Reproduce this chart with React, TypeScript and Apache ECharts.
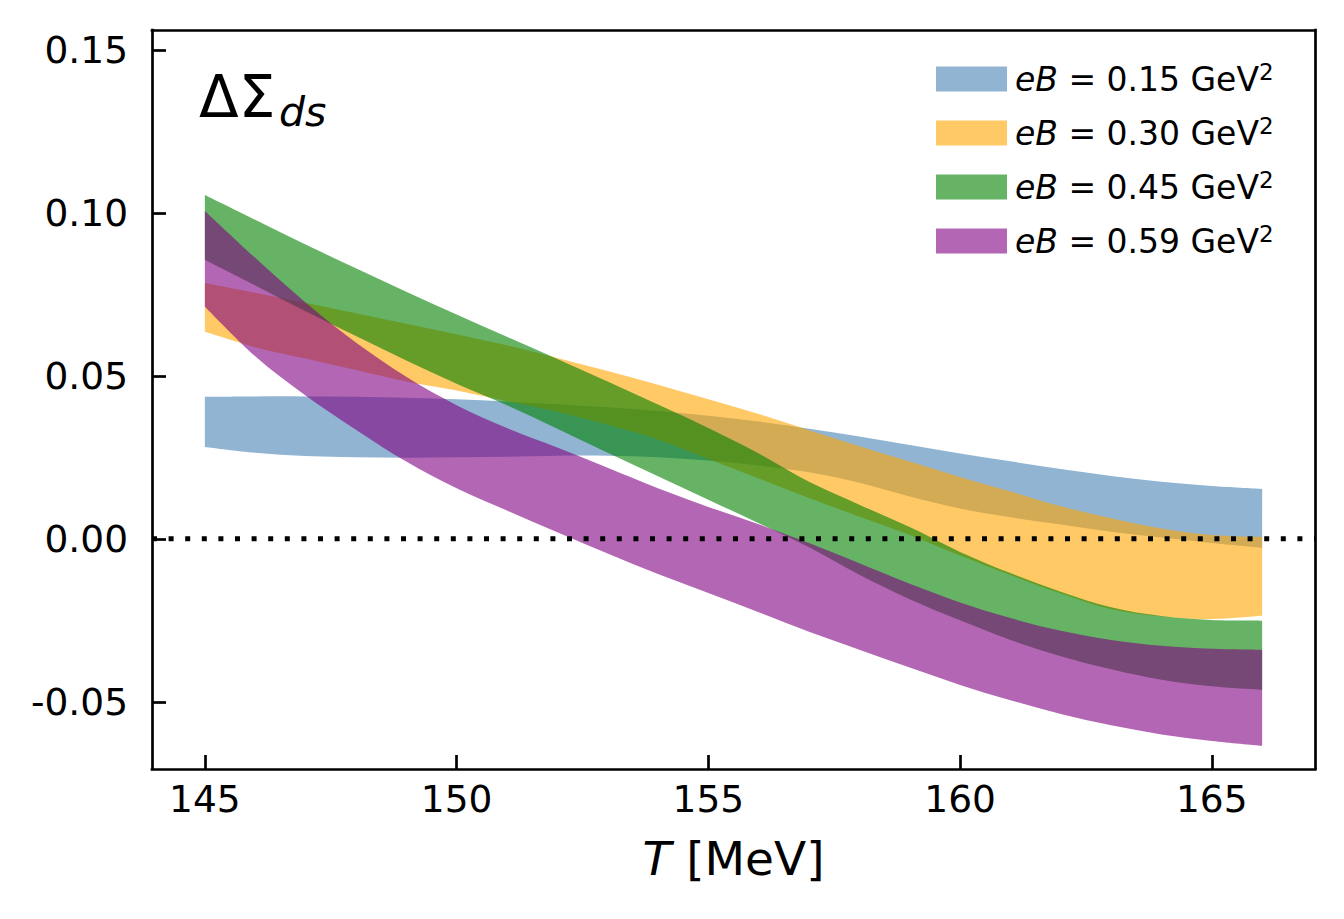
import React, { useEffect, useRef } from "react";
import * as echarts from "echarts";

// Temperature grid (MeV)
const temperatures = [145, 146, 147, 148, 149, 150, 151, 152, 153, 154, 155, 156, 157, 158, 159, 160, 161, 162, 163, 164, 165, 166];

// eB = 0.15 GeV^2
const blueUpper = [0.0436, 0.0437, 0.0437, 0.0436, 0.0433, 0.0428, 0.0421, 0.0413, 0.0404, 0.0392, 0.0378, 0.036, 0.0338, 0.0314, 0.0288, 0.0262, 0.0238, 0.0214, 0.0193, 0.0175, 0.0162, 0.0153];
const blueLower = [0.0282, 0.0264, 0.0254, 0.025, 0.0249, 0.025, 0.0252, 0.0255, 0.0255, 0.025, 0.024, 0.0225, 0.0204, 0.0172, 0.013, 0.0093, 0.0066, 0.0044, 0.0022, 0.0004, -0.0013, -0.0028];

// eB = 0.30 GeV^2
const orangeUpper = [0.0785, 0.0755, 0.0724, 0.0692, 0.066, 0.0628, 0.0594, 0.0555, 0.0515, 0.0473, 0.0428, 0.0383, 0.0333, 0.0284, 0.0237, 0.019, 0.0145, 0.01, 0.0063, 0.0032, 0.0012, 0.0006];
const orangeLower = [0.0635, 0.0588, 0.0553, 0.0518, 0.0483, 0.0455, 0.0422, 0.039, 0.035, 0.0305, 0.0245, 0.0185, 0.0125, 0.0068, 0.0012, -0.0051, -0.0111, -0.0168, -0.0216, -0.0238, -0.0246, -0.0236];

// eB = 0.45 GeV^2
const greenUpper = [0.1055, 0.0979, 0.0903, 0.083, 0.0758, 0.0688, 0.062, 0.0552, 0.0483, 0.0412, 0.034, 0.0262, 0.0175, 0.0105, 0.0036, -0.004, -0.0105, -0.0162, -0.021, -0.0237, -0.0249, -0.0251];
const greenLower = [0.0856, 0.0777, 0.0698, 0.0622, 0.0547, 0.0476, 0.041, 0.0338, 0.0264, 0.0192, 0.012, 0.0048, -0.0026, -0.011, -0.0185, -0.025, -0.031, -0.036, -0.04, -0.0432, -0.0452, -0.0463];

// eB = 0.59 GeV^2
const purpleUpper = [0.1006, 0.0862, 0.0725, 0.0602, 0.0497, 0.041, 0.034, 0.028, 0.0218, 0.0155, 0.0098, 0.0045, -0.0013, -0.0075, -0.0138, -0.0195, -0.0243, -0.0282, -0.031, -0.0328, -0.0337, -0.034];
const purpleLower = [0.0712, 0.056, 0.044, 0.0335, 0.0237, 0.0155, 0.0087, 0.002, -0.0045, -0.0108, -0.0166, -0.0225, -0.0285, -0.034, -0.0395, -0.0448, -0.0495, -0.0537, -0.0572, -0.06, -0.062, -0.0635];

const bandValues = ["0.15", "0.30", "0.45", "0.59"];
const bandLabels = ["eB = 0.15 GeV²", "eB = 0.30 GeV²", "eB = 0.45 GeV²", "eB = 0.59 GeV²"];
const bandColors = ["rgba(70,130,180,0.6)", "rgba(255,165,0,0.6)", "rgba(0,128,0,0.6)", "rgba(128,0,128,0.6)"];

const xTicks = [145, 150, 155, 160, 165];
const xTickLabels = ["145", "150", "155", "160", "165"];
const yTicks = [-0.05, 0, 0.05, 0.1, 0.15];
const yTickLabels = ["-0.05", "0.00", "0.05", "0.10", "0.15"];

const X_MIN = 143.95;
const X_MAX = 167.05;
const Y_MIN = -0.0706;
const Y_MAX = 0.1561;

const FONT = "DejaVu Sans";
const SPINE = 2.7;

function closestLabel(values: number[], labels: string[], v: number) {
  let best = 0;
  for (let i = 1; i < values.length; i++) {
    if (Math.abs(values[i] - v) < Math.abs(values[best] - v)) best = i;
  }
  return labels[best];
}

// Catmull-Rom spline through pixel points, as cubic Bezier segments (continues an open path)
function splineSegments(pts: number[][]): string {
  let d = "";
  const n = pts.length;
  for (let i = 0; i < n - 1; i++) {
    const p0 = pts[i - 1] || pts[i];
    const p1 = pts[i];
    const p2 = pts[i + 1];
    const p3 = pts[i + 2] || pts[i + 1];
    const c1x = p1[0] + (p2[0] - p0[0]) / 6;
    const c1y = p1[1] + (p2[1] - p0[1]) / 6;
    const c2x = p2[0] - (p3[0] - p1[0]) / 6;
    const c2y = p2[1] - (p3[1] - p1[1]) / 6;
    d += ` C${c1x.toFixed(2)},${c1y.toFixed(2)} ${c2x.toFixed(2)},${c2y.toFixed(2)} ${p2[0].toFixed(2)},${p2[1].toFixed(2)}`;
  }
  return d;
}

export default function App() {
  const ref = useRef<HTMLDivElement>(null);

  useEffect(() => {
    if (!ref.current) return;
    const chart = echarts.init(ref.current, null, { renderer: "svg" });

    const bands = [
      { name: bandLabels[0], lower: blueLower, upper: blueUpper, color: bandColors[0] },
      { name: bandLabels[1], lower: orangeLower, upper: orangeUpper, color: bandColors[1] },
      { name: bandLabels[2], lower: greenLower, upper: greenUpper, color: bandColors[2] },
      { name: bandLabels[3], lower: purpleLower, upper: purpleUpper, color: bandColors[3] },
    ];

    const series: any[] = bands.map((b, i) => ({
      type: "custom",
      name: b.name,
      coordinateSystem: "cartesian2d",
      silent: true,
      clip: true,
      z: 2 + i,
      itemStyle: { color: b.color },
      encode: { x: 0, y: 1 },
      data: [[temperatures[0], b.lower[0]]],
      renderItem: (_params: any, api: any) => {
        const top = temperatures.map((t, j) => api.coord([t, b.upper[j]]));
        const bot = temperatures.map((t, j) => api.coord([t, b.lower[j]])).reverse();
        let d = `M${top[0][0].toFixed(2)},${top[0][1].toFixed(2)}`;
        d += splineSegments(top);
        d += ` L${bot[0][0].toFixed(2)},${bot[0][1].toFixed(2)}`;
        d += splineSegments(bot);
        d += " Z";
        return {
          type: "path",
          shape: { pathData: d },
          style: { fill: b.color, stroke: "none" },
        };
      },
    }));

    // dotted reference line at zero
    series.push({
      type: "line",
      name: "zero",
      silent: true,
      symbol: "none",
      z: 20,
      data: [
        [X_MIN, 0],
        [X_MAX, 0],
      ],
      lineStyle: { color: "#000", width: 5, type: [5, 11.6], cap: "butt" },
    });

    const richLegend = {
      i: { fontFamily: FONT, fontSize: 33, fontStyle: "italic", color: "#000", lineHeight: 38, verticalAlign: "middle" },
      n: { fontFamily: FONT, fontSize: 33, color: "#000", lineHeight: 38, verticalAlign: "middle" },
      s: { fontFamily: FONT, fontSize: 23, color: "#000", lineHeight: 23, verticalAlign: "top" },
    };

    const option: any = {
      animation: false,
      backgroundColor: "#fff",
      textStyle: { fontFamily: FONT },
      grid: { left: 152, right: 29, top: 30, bottom: 150 },
      legend: {
        show: true,
        selectedMode: false,
        orient: "vertical",
        left: 936,
        top: 60,
        padding: 0,
        icon: "rect",
        itemWidth: 71,
        itemHeight: 25,
        itemGap: 18.5,
        data: bands.map((b) => ({ name: b.name, itemStyle: { color: b.color, borderWidth: 0 } })),
        formatter: (name: string) => {
          const k = bandLabels.indexOf(name);
          return `{i|eB}{n| = ${bandValues[k]} GeV}{s|2}`;
        },
        textStyle: {
          fontFamily: FONT,
          fontSize: 33,
          color: "#000",
          padding: [0, 0, 0, 3],
          rich: richLegend,
        },
      },
      xAxis: [
        {
          type: "value",
          position: "bottom",
          min: X_MIN,
          max: X_MAX,
          name: "{i|T} [MeV]",
          nameLocation: "middle",
          nameGap: 66,
          nameTextStyle: {
            fontFamily: FONT,
            fontSize: 47,
            color: "#000",
            lineHeight: 47,
            rich: {
              i: { fontFamily: FONT, fontSize: 47, fontStyle: "italic", color: "#000", lineHeight: 47 },
            },
          },
          axisLine: { show: true, onZero: false, lineStyle: { color: "#000", width: SPINE, cap: "square" } },
          splitLine: { show: false },
          axisTick: {
            show: true,
            inside: true,
            length: 14,
            lineStyle: { color: "#000", width: SPINE },
            customValues: xTicks,
          },
          axisLabel: {
            show: true,
            margin: 11,
            fontFamily: FONT,
            fontSize: 37.5,
            color: "#000",
            customValues: xTicks,
            formatter: (v: number) => closestLabel(xTicks, xTickLabels, v),
          },
        },
        {
          type: "value",
          position: "top",
          min: X_MIN,
          max: X_MAX,
          axisLine: { show: true, onZero: false, lineStyle: { color: "#000", width: SPINE, cap: "square" } },
          axisTick: { show: false },
          axisLabel: { show: false },
          splitLine: { show: false },
        },
      ],
      yAxis: [
        {
          type: "value",
          position: "left",
          min: Y_MIN,
          max: Y_MAX,
          axisLine: { show: true, onZero: false, lineStyle: { color: "#000", width: SPINE, cap: "square" } },
          splitLine: { show: false },
          axisTick: {
            show: true,
            inside: true,
            length: 14,
            lineStyle: { color: "#000", width: SPINE },
            customValues: yTicks,
          },
          axisLabel: {
            show: true,
            margin: 24,
            fontFamily: FONT,
            fontSize: 37.5,
            color: "#000",
            customValues: yTicks,
            formatter: (v: number) => closestLabel(yTicks, yTickLabels, v),
          },
        },
        {
          type: "value",
          position: "right",
          min: Y_MIN,
          max: Y_MAX,
          axisLine: { show: true, onZero: false, lineStyle: { color: "#000", width: SPINE, cap: "square" } },
          axisTick: { show: false },
          axisLabel: { show: false },
          splitLine: { show: false },
        },
      ],
      graphic: [
        {
          type: "text",
          left: 199,
          top: 68,
          silent: true,
          style: { text: "ΔΣ", fontFamily: FONT, fontSize: 58, fill: "#000" },
        },
        {
          type: "text",
          left: 279,
          top: 91,
          silent: true,
          style: { text: "ds", fontFamily: FONT, fontSize: 41, fontStyle: "italic", fill: "#000" },
        },
      ],
      series,
    };

    chart.setOption(option);
    return () => {
      chart.dispose();
    };
  }, []);

  return (
    <div
      ref={ref}
      style={{ position: "fixed", left: 0, top: 0, width: 1344, height: 919, background: "#fff" }}
    />
  );
}
